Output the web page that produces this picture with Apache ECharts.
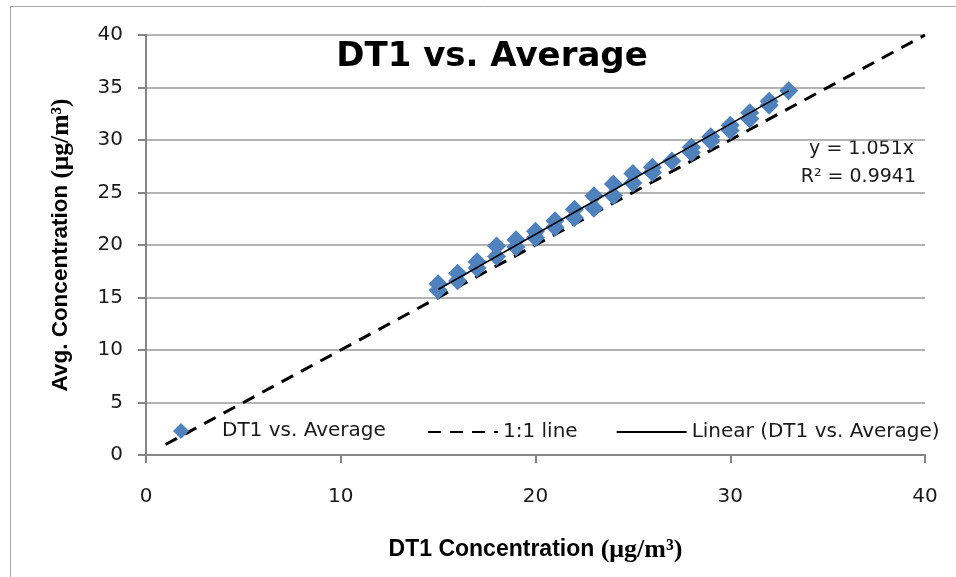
<!DOCTYPE html>
<html>
<head>
<meta charset="utf-8">
<script src="https://cdn.jsdelivr.net/npm/echarts@6/dist/echarts.min.js"></script>
<style>
html,body{margin:0;padding:0;background:#fff;}
#chart{width:956px;height:577px;}
</style>
</head>
<body>
<div id="chart"></div>
<script>
// Scatter data: DT1 concentration vs. average concentration
var dt1Values = [15,15,16,16,17,17,18,18,19,19,20,20,21,21,22,22,23,23,24,24,25,25,26,26,27,28,28,29,29,30,30,31,31,32,32,33];
var avgValues = [16.3,15.7,17.3,16.6,18.4,17.8,19.9,18.9,20.5,19.8,21.3,20.7,22.3,21.7,23.4,22.6,24.7,23.5,25.8,24.7,26.8,25.9,27.4,26.9,28.0,29.3,28.8,30.3,29.9,31.4,30.9,32.6,32.0,33.7,33.3,34.7];
// 1:1 line end points
var oneToOneX = [1, 40];
var oneToOneY = [1, 40];
// Linear trendline (through origin)
var trendSlope = 1.051;
var trendX = [15, 33];
var trendLabels = ['y = 1.051x', 'R\u00b2 = 0.9941'];
// Axis ticks
var xTicks = [0, 10, 20, 30, 40];
var yTicks = [0, 5, 10, 15, 20, 25, 30, 35, 40];

var seriesNames = ['DT1 vs. Average', '1:1 line', 'Linear (DT1 vs. Average)'];

var scatterData = dt1Values.map(function (x, i) { return [x, avgValues[i]]; });
var oneData = oneToOneX.map(function (x, i) { return [x, oneToOneY[i]]; });
var trendData = trendX.map(function (x) { return [x, +(trendSlope * x).toFixed(4)]; });

var chart = echarts.init(document.getElementById('chart'));
var axisColor = '#868686';
var tickFont = { color: '#1a1a1a', fontSize: 20, fontFamily: 'DejaVu Sans' };
var legendText = { fontFamily: 'DejaVu Sans', fontSize: 20, color: '#1a1a1a' };

chart.setOption({
  animation: false,
  backgroundColor: '#fff',
  title: {
    text: 'DT1 vs. Average',
    left: 487, top: 35, textAlign: 'center',
    textStyle: { fontFamily: 'DejaVu Sans', fontWeight: 'bold', fontSize: 34, color: '#000' }
  },
  grid: { left: 146, right: 31, top: 35, bottom: 122, containLabel: false },
  legend: [
    {
      data: [seriesNames[0]],
      left: 168, top: 416,
      itemWidth: 16, itemHeight: 16,
      textStyle: Object.assign({ padding: [0, 0, 0, 28] }, legendText)
    },
    {
      data: [
        { name: seriesNames[1], itemStyle: { opacity: 0 } },
        { name: seriesNames[2], itemStyle: { opacity: 0 } }
      ],
      left: 422, top: 417,
      itemWidth: 70, itemHeight: 16, itemGap: 38,
      textStyle: legendText
    }
  ],
  xAxis: {
    type: 'value', min: xTicks[0], max: xTicks[xTicks.length - 1], interval: 10,
    name: '{a|DT1 Concentration }{b|(\u03bcg/m\u00b3)}',
    nameLocation: 'middle', nameGap: 82,
    nameTextStyle: {
      rich: {
        a: { fontFamily: 'Liberation Sans', fontWeight: 'bold', fontSize: 23, color: '#000' },
        b: { fontFamily: 'Liberation Serif', fontWeight: 'bold', fontSize: 26, color: '#000' }
      }
    },
    axisLine: { show: true, lineStyle: { color: axisColor, width: 2 } },
    axisTick: { show: true, inside: false, length: 8, lineStyle: { color: axisColor, width: 2 } },
    axisLabel: Object.assign({ margin: 32 }, tickFont),
    splitLine: { show: false }
  },
  yAxis: {
    type: 'value', min: yTicks[0], max: yTicks[yTicks.length - 1], interval: 5,
    name: '{a|Avg. Concentration }{b|(\u03bcg/m\u00b3)}',
    nameLocation: 'middle', nameGap: 72, nameRotate: 90,
    nameTextStyle: {
      rich: {
        a: { fontFamily: 'Liberation Sans', fontWeight: 'bold', fontSize: 22.5, color: '#000' },
        b: { fontFamily: 'Liberation Serif', fontWeight: 'bold', fontSize: 25.5, color: '#000' }
      }
    },
    axisLine: { show: true, lineStyle: { color: axisColor, width: 2 } },
    axisTick: { show: true, inside: false, length: 8, lineStyle: { color: axisColor, width: 2 } },
    axisLabel: Object.assign({ margin: 23 }, tickFont),
    splitLine: { show: true, lineStyle: { color: '#9a9a9a', width: 1.5 } }
  },
  series: [
    {
      name: seriesNames[0], type: 'scatter', data: scatterData,
      symbol: 'diamond', symbolSize: 19, z: 3,
      itemStyle: { color: '#4F81BD', opacity: 1 }
    },
    {
      name: seriesNames[1], type: 'line', data: oneData,
      symbol: 'none', z: 2,
      lineStyle: { color: '#000', width: 3, type: [13, 9] },
      itemStyle: { color: '#000' }
    },
    {
      name: seriesNames[2], type: 'line', data: trendData,
      symbol: 'none', z: 4,
      lineStyle: { color: '#000', width: 1.6 },
      itemStyle: { color: '#000' }
    }
  ],
  graphic: [
    { type: 'rect', shape: { x: 10.5, y: 6.5, width: 960, height: 600 }, style: { fill: 'none', stroke: '#a6a6a6', lineWidth: 1 }, silent: true, z: -10 },
    { type: 'text', right: 42, top: 140, style: { text: trendLabels[0], fontFamily: 'DejaVu Sans', fontSize: 19, fill: '#1a1a1a', textAlign: 'right' } },
    { type: 'text', right: 40, top: 168, style: { text: trendLabels[1], fontFamily: 'DejaVu Sans', fontSize: 19, fill: '#1a1a1a', textAlign: 'right' } }
  ]
});
</script>
</body>
</html>
